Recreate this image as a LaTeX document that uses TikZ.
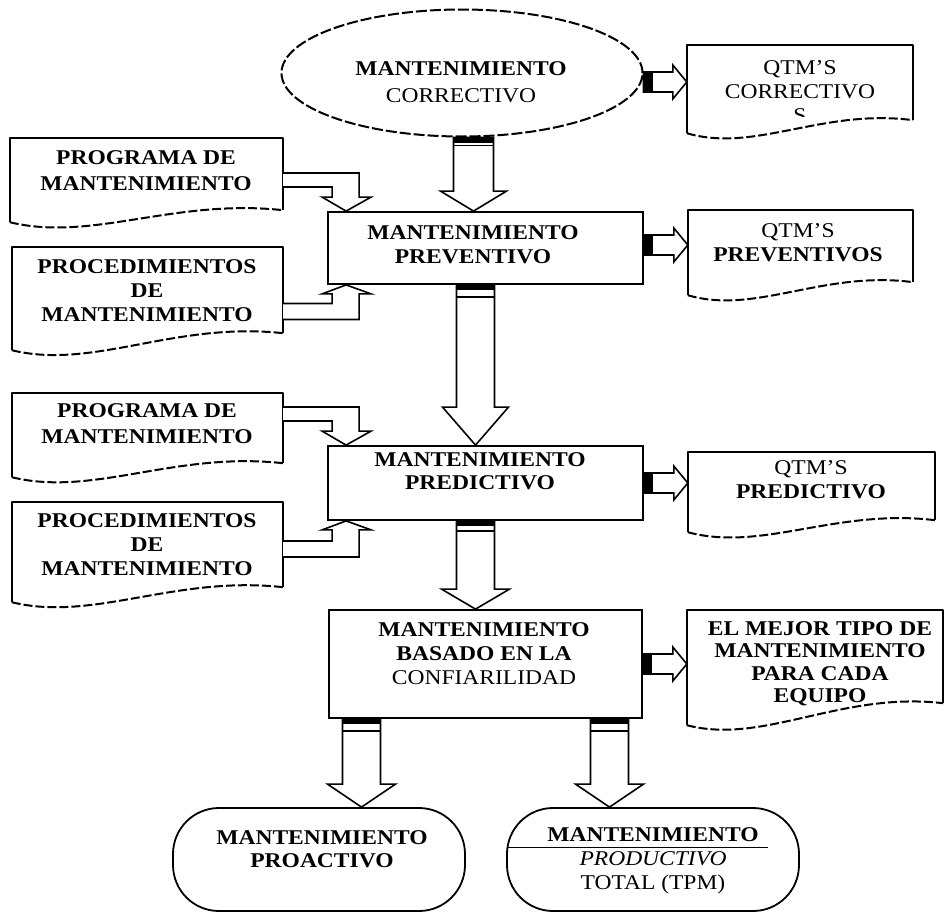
\documentclass[tikz,border=0pt]{standalone}
\usepackage{fontspec}
\setmainfont{Liberation Serif}[FakeStretch=1.12]
\usetikzlibrary{calc,shapes.geometric}

% vertical block arrow: #1 tail, #2 tip, #3 shaft half width, #4 head half width, #5 head length, #6 band depth
\newcommand\vblock[6]{%
  \draw[blockarrow] ($(#1)+(-#3,0)$) -- ($(#2)+(-#3,-#5)$) -- ($(#2)+(-#4,-#5)$) -- (#2)
    -- ($(#2)+(#4,-#5)$) -- ($(#2)+(#3,-#5)$) -- ($(#1)+(#3,0)$) -- cycle;
  \fill ($(#1)+(-#3,0)$) rectangle ($(#1)+(#3,5)$);
  \draw[bandline] ($(#1)+(-#3,#6)$) -- ($(#1)+(#3,#6)$);
}
% horizontal block arrow pointing right
\newcommand\hblock[6]{%
  \draw[blockarrow] ($(#1)+(0,-#3)$) -- ($(#2)+(-#5,-#3)$) -- ($(#2)+(-#5,-#4)$) -- (#2)
    -- ($(#2)+(-#5,#4)$) -- ($(#2)+(-#5,#3)$) -- ($(#1)+(0,#3)$) -- cycle;
  \fill ($(#1)+(0,-#3)$) rectangle ($(#1)+(#6,#3)$);
}
% bent arrow: leaves a box to the right, then turns down onto the top of another box
\newcommand\bentdown[2]{%
  \draw[blockarrow] (#1) -- ($(#1-|#2)+(13,0)$) -- ($(#2)+(13,-14)$) -- ($(#2)+(25,-14)$) -- (#2)
    -- ($(#2)+(-24,-14)$) -- ($(#2)+(-14,-14)$) -- ($(#1-|#2)+(-14,14)$) -- ($(#1)+(0,14)$);
}
% bent arrow: leaves a box to the right, then turns up onto the bottom of another box
\newcommand\bentup[2]{%
  \draw[blockarrow] (#1) -- ($(#1-|#2)+(13,0)$) -- ($(#2)+(13,9)$) -- ($(#2)+(25,9)$) -- (#2)
    -- ($(#2)+(-24,9)$) -- ($(#2)+(-14,9)$) -- ($(#1-|#2)+(-14,-16)$) -- ($(#1)+(0,-16)$);
}
% document shape: straight top and sides, wavy dashed bottom; #2 = rise of the right corner
\newcommand\docshape[2]{%
  \draw[docedge] (#1.south west) -- (#1.north west) -- (#1.north east) -- ($(#1.south east)+(0,-#2)$);
  \draw[docwave] (#1.south west) .. controls ($(#1.south west)!0.3!(#1.south east)+(0,20)$)
    and ($(#1.south west)!0.6!(#1.south east)+(0,-#2-12)$) .. ($(#1.south east)+(0,-#2)$);
}

\begin{document}
\begin{tikzpicture}[x=1pt,y=-1pt,
  frame/.style={rectangle,inner sep=0pt,draw=none},
  mainbox/.style={rectangle,inner sep=0pt,draw,line width=1.8pt},
  termin/.style={rectangle,inner sep=0pt,draw,line width=1.8pt,rounded corners=46pt},
  oval/.style={ellipse,inner sep=0pt,draw,line width=2pt,dash pattern=on 11pt off 3pt},
  docedge/.style={line width=1.8pt,line join=round},
  docwave/.style={line width=2pt,dash pattern=on 9pt off 3pt},
  blockarrow/.style={draw,fill=white,line width=1.6pt,line join=miter},
  bandline/.style={line width=1.6pt},
  txt/.style={align=center,inner sep=0pt,font=\fontsize{21}{24}\selectfont}]

\fill[white] (0,0) rectangle (946,913);
\useasboundingbox (0,0) rectangle (946,913);

% ---- shapes ----
\node[oval,minimum width=361pt,minimum height=127pt] (corr) at (462,73) {};
\node[frame,minimum width=226pt,minimum height=88pt] (qc) at (800,89) {};
\node[mainbox,minimum width=315pt,minimum height=72pt] (prev) at (485.5,248) {};
\node[frame,minimum width=225pt,minimum height=85pt] (qp) at (800.5,252.5) {};
\node[frame,minimum width=273pt,minimum height=84pt] (pg1) at (146.5,180) {};
\node[frame,minimum width=271pt,minimum height=103pt] (pc1) at (147.5,298.5) {};
\node[frame,minimum width=271pt,minimum height=84pt] (pg2) at (147.5,435) {};
\node[frame,minimum width=271pt,minimum height=100pt] (pc2) at (147.5,552) {};
\node[mainbox,minimum width=315pt,minimum height=74pt] (pred) at (485.5,483) {};
\node[frame,minimum width=247pt,minimum height=80pt] (qd) at (811.5,492) {};
\node[mainbox,minimum width=313pt,minimum height=108pt] (bas) at (485.5,664) {};
\node[frame,minimum width=256pt,minimum height=115pt] (em) at (815,667.5) {};
\node[termin,minimum width=292pt,minimum height=103pt] (pro) at (319,859.5) {};
\node[termin,minimum width=292pt,minimum height=103pt] (tpm) at (653,859.5) {};

\docshape{qc}{13}
\docshape{qp}{13}
\docshape{pg1}{12}
\docshape{pc1}{17}
\docshape{pg2}{14}
\docshape{pc2}{15}
\docshape{qd}{12}
\docshape{em}{22}

% ---- texts ----
\node[txt,font=\fontsize{21}{27}\selectfont] (corrt) at (461,82) {\textbf{MANTENIMIENTO}\\CORRECTIVO};
\begin{scope}
  \clip (qc.north west) rectangle ($(qc.south east)+(0,-17)$);
  \node[txt] (qct) at (800,92) {QTM'S\\CORRECTIVO\\S};
\end{scope}
\node[txt,font=\bfseries\fontsize{21}{24}\selectfont] (prevt) at (473,245) {MANTENIMIENTO\\PREVENTIVO};
\node[txt] (qpt) at (798,243) {QTM'S\\\textbf{PREVENTIVOS}};
\node[txt,font=\bfseries\fontsize{21}{26}\selectfont] (pg1t) at (146,171) {PROGRAMA DE\\MANTENIMIENTO};
\node[txt,font=\bfseries\fontsize{21}{24}\selectfont] (pc1t) at (147,291) {PROCEDIMIENTOS\\DE\\MANTENIMIENTO};
\node[txt,font=\bfseries\fontsize{21}{26}\selectfont] (pg2t) at (147,424) {PROGRAMA DE\\MANTENIMIENTO};
\node[txt,font=\bfseries\fontsize{21}{24}\selectfont] (pc2t) at (147,545) {PROCEDIMIENTOS\\DE\\MANTENIMIENTO};
\node[txt,font=\bfseries\fontsize{21}{23}\selectfont] (predt) at (480,471) {MANTENIMIENTO\\PREDICTIVO};
\node[txt] (qdt) at (811,480) {QTM'S\\\textbf{PREDICTIVO}};
\node[txt] (bast) at (484,654) {\textbf{MANTENIMIENTO}\\\textbf{BASADO EN LA}\\CONFIARILIDAD};
\node[txt,font=\bfseries\fontsize{21}{22.5}\selectfont] (emt) at (820,663.5) {EL MEJOR TIPO DE\\MANTENIMIENTO\\PARA CADA\\EQUIPO};
\node[txt,font=\bfseries\fontsize{21}{23}\selectfont] (prot) at (322,849) {MANTENIMIENTO\\PROACTIVO};
\node[txt] (tpmt) at (653,861) {\textbf{MANTENIMIENTO}\\\textit{PRODUCTIVO}\\TOTAL (TPM)};
\draw[line width=1.4pt] ($(tpm.west)+(2,-12)$) -- ($(tpm.west)+(262,-12)$);

% ---- connectors ----
\coordinate (t1) at ($(prev.north)+(-12,0)$);
\coordinate (s1) at (corr.south -| t1);
\vblock{s1}{t1}{20}{33}{20}{8}

\coordinate (t2) at ($(pred.north)+(-10,0)$);
\coordinate (s2) at (prev.south -| t2);
\vblock{s2}{t2}{19}{33}{38}{12}

\coordinate (t3) at ($(bas.north)+(-10,0)$);
\coordinate (s3) at (pred.south -| t3);
\vblock{s3}{t3}{19}{34}{20}{10}

\coordinate (s4) at ($(bas.south)+(-124,0)$);
\coordinate (t4) at (s4 |- pro.north);
\vblock{s4}{t4}{19}{34}{23}{12}

\coordinate (s5) at ($(bas.south)+(124,0)$);
\coordinate (t5) at (s5 |- tpm.north);
\vblock{s5}{t5}{19}{34}{23}{12}

\coordinate (s6) at ($(corr.east)+(0,9)$);
\coordinate (t6) at (qc.west |- s6);
\hblock{s6}{t6}{10}{17}{14}{9}

\coordinate (s7) at ($(prev.east)+(0,-3)$);
\coordinate (t7) at (qp.west |- s7);
\hblock{s7}{t7}{10}{17}{14}{9}

\coordinate (s8) at (pred.east);
\coordinate (t8) at (qd.west |- s8);
\hblock{s8}{t8}{10}{17}{14}{9}

\coordinate (s9) at (bas.east);
\coordinate (t9) at (em.west |- s9);
\hblock{s9}{t9}{10}{17}{14}{9}

\coordinate (b1s) at ($(pg1.east)+(0,-7)$);
\coordinate (b1t) at ($(prev.north west)+(19,0)$);
\bentdown{b1s}{b1t}

\coordinate (b2s) at ($(pc1.east)+(0,21)$);
\coordinate (b2t) at ($(prev.south west)+(19,0)$);
\bentup{b2s}{b2t}

\coordinate (b3s) at ($(pg2.east)+(0,-28)$);
\coordinate (b3t) at ($(pred.north west)+(19,0)$);
\bentdown{b3s}{b3t}

\coordinate (b4s) at ($(pc2.east)+(0,5)$);
\coordinate (b4t) at ($(pred.south west)+(19,0)$);
\bentup{b4s}{b4t}
\end{tikzpicture}
\end{document}
